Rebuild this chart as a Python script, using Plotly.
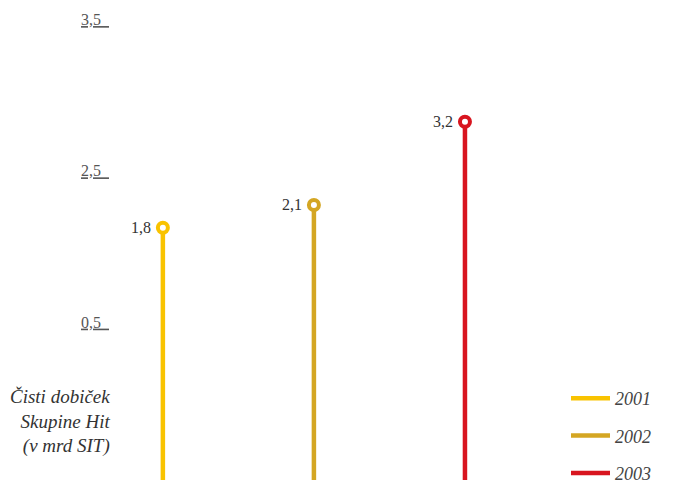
import plotly.graph_objects as go

years = ["2001", "2002", "2003"]
values = [1.8, 2.1, 3.2]
value_labels = ["1,8", "2,1", "3,2"]
colors = ["#F9C300", "#D4A623", "#D8151F"]
tick_vals = [0.5, 2.5, 4.5]
tick_text = ["0,5", "2,5", "3,5"]
y_range = [-1.80, 4.81]
caption = "Čisti dobiček<br>Skupine Hit<br>(v mrd SIT)"

fig = go.Figure()
for i, (yr, v, c) in enumerate(zip(years, values, colors)):
    fig.add_trace(go.Scatter(
        x=[i, i], y=[y_range[0], v], mode="lines",
        line=dict(color=c, width=4.5), name=yr,
        legendgroup=yr, showlegend=True, hoverinfo="skip"))
for i, (yr, v, c) in enumerate(zip(years, values, colors)):
    fig.add_trace(go.Scatter(
        x=[i], y=[v], mode="markers",
        marker=dict(size=10, color="white", line=dict(color=c, width=4)),
        showlegend=False, legendgroup=yr, cliponaxis=False))

annotations = [dict(
    x=i, y=v, xref="x", yref="y", xanchor="right", yanchor="middle",
    xshift=-10, text=lab, showarrow=False,
    font=dict(family="Liberation Serif", size=16, color="#333333"))
    for i, (v, lab) in enumerate(zip(values, value_labels))]
annotations.append(dict(
    x=0, xref="paper", xanchor="right", y=0.158, yref="paper", yanchor="middle",
    xshift=2, text=caption, showarrow=False, align="right",
    font=dict(family="Liberation Serif", size=19, color="#333333",
              style="italic")))

fig.update_layout(
    width=674, height=500,
    margin=dict(l=110, r=58, t=0, b=0),
    paper_bgcolor="white", plot_bgcolor="white",
    showlegend=True,
    xaxis=dict(range=[-0.35, 3.0], visible=False, fixedrange=True),
    yaxis=dict(range=y_range, tickvals=tick_vals, automargin=False,
               ticktext=["<u>" + t + "&nbsp;&nbsp;</u>" for t in tick_text],
               showgrid=False, zeroline=False, showline=False, ticks="",
               ticklabelstandoff=0, ticklabelshift=-4, fixedrange=True,
               tickfont=dict(family="Liberation Serif", size=16, color="#555555")),
    legend=dict(x=(566 - 110) / (674 - 110 - 58), y=0.24,
                xanchor="left", yanchor="top",
                font=dict(family="Liberation Serif", size=18, color="#444444",
                          style="italic"),
                itemwidth=39, tracegroupgap=11, bgcolor="rgba(0,0,0,0)"),
    annotations=annotations,
)

fig.write_html("out.html", config={"displayModeBar": False},
               post_script="document.body.style.margin='0';document.body.style.overflow='hidden';")
